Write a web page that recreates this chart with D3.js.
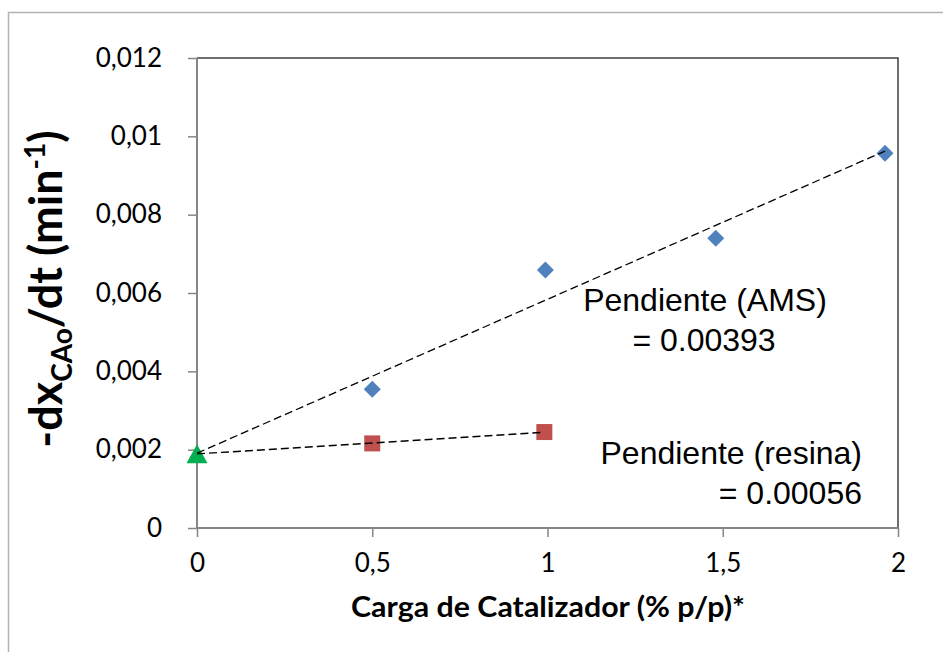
<!DOCTYPE html>
<html>
<head>
<meta charset="utf-8">
<script src="https://cdn.jsdelivr.net/npm/d3@7"></script>
<style>
  html, body { margin: 0; padding: 0; background: #fff; }
  svg { display: block; }
</style>
</head>
<body>
<svg id="chart" width="943" height="652"></svg>
<script>
// Catalyst loading (% w/w) and initial reaction rate -dx/dt (min^-1)
const amsLoad = [0.5, 0.994, 1.48, 1.963];
const amsRate = [0.00354, 0.00659, 0.0074, 0.00957];
const resinLoad = [0.5, 0.991];
const resinRate = [0.00216, 0.00245];
const blankLoad = [0];
const blankRate = [0.00186];

// Linear trendlines: slope, intercept and x extent
const trendNames = ["AMS", "resina"];
const trendSlope = [0.00393, 0.00056];
const trendIntercept = [0.00191, 0.00189];
const trendEnd = [1.963, 0.991];

const xTicks = [0, 0.5, 1, 1.5, 2];
const yTicks = [0, 0.002, 0.004, 0.006, 0.008, 0.01, 0.012];
const commaFmt = v => String(+v.toFixed(4)).replace(".", ",");

const svg = d3.select("#chart");
const plot = { left: 197, right: 898, top: 58, bottom: 528 };

const x = d3.scaleLinear().domain([0, 2]).range([plot.left, plot.right]);
const y = d3.scaleLinear().domain([0, 0.012]).range([plot.bottom, plot.top]);

// Chart area border
svg.append("rect")
  .attr("x", 8.5).attr("y", 12.5)
  .attr("width", 1000).attr("height", 1000)
  .attr("fill", "#fff").attr("stroke", "#b3b3b3").attr("stroke-width", 1.5);

// Plot frame (top and right)
svg.append("path")
  .attr("d", `M${plot.left},${plot.top}H${plot.right}V${plot.bottom}`)
  .attr("fill", "none").attr("stroke", "#404040").attr("stroke-width", 1.5);

const tickFont = "Lato, 'Open Sans', sans-serif";

// Y axis
const yAxis = svg.append("g")
  .attr("transform", `translate(${plot.left},0)`)
  .call(d3.axisLeft(y).tickValues(yTicks).tickFormat(commaFmt).tickSize(9).tickPadding(26));
// X axis
const xAxis = svg.append("g")
  .attr("transform", `translate(0,${plot.bottom})`)
  .call(d3.axisBottom(x).tickValues(xTicks).tickFormat(commaFmt).tickSize(9).tickPadding(17));

[yAxis, xAxis].forEach(g => {
  g.select(".domain").attr("stroke", "#868686").attr("stroke-width", 2);
  g.selectAll(".tick line").attr("stroke", "#868686").attr("stroke-width", 1.5);
  g.selectAll(".tick text")
    .attr("fill", "#000")
    .style("font-family", tickFont)
    .style("font-size", "26px");
});
xAxis.selectAll(".domain").attr("d", `M${plot.left},0H${plot.right}`);
yAxis.selectAll(".domain").attr("d", `M0,${plot.bottom}V${plot.top}`);

// Axis titles
svg.append("text")
  .attr("x", 548).attr("y", 617)
  .attr("text-anchor", "middle")
  .attr("textLength", 394)
  .attr("lengthAdjust", "spacingAndGlyphs")
  .style("font-family", tickFont)
  .style("font-weight", "bold")
  .style("font-size", "29px")
  .text("Carga de Catalizador (% p/p)*");

const yTitle = svg.append("text")
  .attr("transform", "translate(62,289) rotate(-90)")
  .attr("text-anchor", "middle")
  .style("font-family", tickFont)
  .style("font-weight", "bold")
  .style("font-size", "45px");
yTitle.append("tspan").text("-dx");
yTitle.append("tspan").attr("dy", 10).style("font-size", "28px").text("CAo");
yTitle.append("tspan").attr("dy", -10).text("/dt (min");
yTitle.append("tspan").attr("dy", -17).style("font-size", "28px").text("-1");
yTitle.append("tspan").attr("dy", 17).text(")");

// Markers
const blue = "#4F81BD", red = "#C0504D", green = "#00B050";

svg.append("g").selectAll("path")
  .data(d3.zip(amsLoad, amsRate))
  .join("path")
  .attr("transform", d => `translate(${x(d[0])},${y(d[1])}) rotate(45)`)
  .attr("d", "M-6,-6H6V6H-6Z")
  .attr("fill", blue);

svg.append("g").selectAll("rect")
  .data(d3.zip(resinLoad, resinRate))
  .join("rect")
  .attr("x", d => x(d[0]) - 8).attr("y", d => y(d[1]) - 8)
  .attr("width", 16).attr("height", 16)
  .attr("fill", red);

svg.append("g").selectAll("path")
  .data(d3.zip(blankLoad, blankRate))
  .join("path")
  .attr("transform", d => `translate(${x(d[0])},${y(d[1])})`)
  .attr("d", "M0,-11L10.5,8H-10.5Z")
  .attr("fill", green);

// Trendlines drawn over the markers
const line = d3.line().x(d => x(d[0])).y(d => y(d[1]));
svg.append("g").selectAll("path")
  .data(trendNames.map((n, i) => [[0, trendIntercept[i]], [trendEnd[i], trendIntercept[i] + trendSlope[i] * trendEnd[i]]]))
  .join("path")
  .attr("d", line)
  .attr("fill", "none")
  .attr("stroke", "#000")
  .attr("stroke-width", 1.3)
  .attr("stroke-dasharray", "8,4");

// Slope annotations
const noteFont = "'Liberation Sans', Arial, sans-serif";
const notes = [
  { lines: [`Pendiente (${trendNames[0]})`, `= ${trendSlope[0].toFixed(5)}`], x: 705, y: 311, anchor: "middle" },
  { lines: [`Pendiente (${trendNames[1]})`, `= ${trendSlope[1].toFixed(5)}`], x: 862, y: 464, anchor: "end" }
];
notes.forEach(n => {
  const t = svg.append("text")
    .attr("text-anchor", n.anchor)
    .style("font-family", noteFont)
    .style("font-size", "32px")
    .attr("fill", "#000");
  t.append("tspan").attr("x", n.x).attr("y", n.y).text(n.lines[0]);
  t.append("tspan").attr("x", n.anchor === "middle" ? n.x - 1 : n.x).attr("y", n.y + 40).text(n.lines[1]);
});
</script>
</body>
</html>
